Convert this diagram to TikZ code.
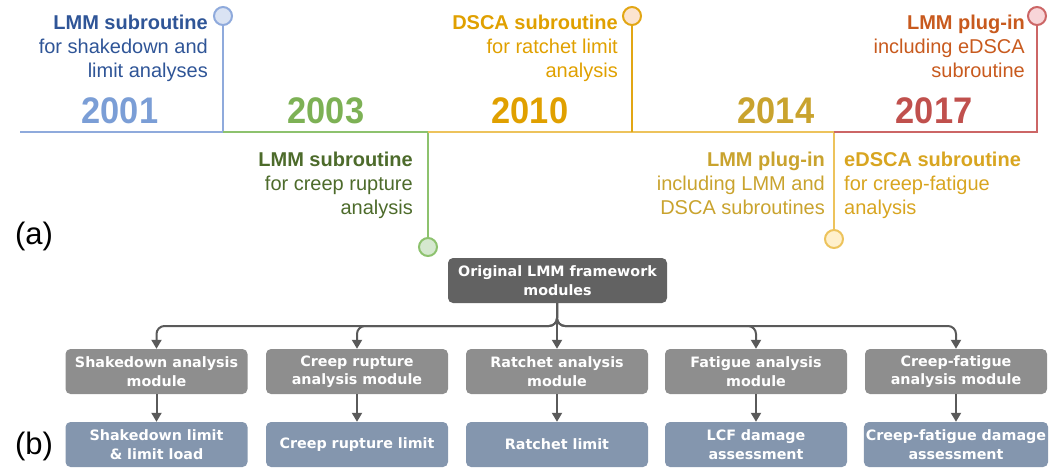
\documentclass[tikz,border=0pt]{standalone}
\usepackage{fontspec}
\setmainfont{Liberation Sans}
\newfontfamily\boxfont{DejaVu Sans}
\usetikzlibrary{arrows.meta}

% timeline colours
\definecolor{bLine}{HTML}{8FAADC}
\definecolor{bFill}{HTML}{DAE3F3}
\definecolor{bText}{HTML}{2F5597}
\definecolor{bYear}{HTML}{7B9ED6}
\definecolor{gLine}{HTML}{8DC26E}
\definecolor{gFill}{HTML}{D5E8CF}
\definecolor{gText}{HTML}{4D6B2B}
\definecolor{gYear}{HTML}{7DB155}
\definecolor{oLine}{HTML}{E2A614}
\definecolor{oFill}{HTML}{FCE4D0}
\definecolor{oText}{HTML}{E0A000}
\definecolor{yLine}{HTML}{EDC35C}
\definecolor{yFill}{HTML}{FFF0CC}
\definecolor{yText}{HTML}{C9A32E}
\definecolor{eText}{HTML}{D8A520}
\definecolor{rLine}{HTML}{CC6666}
\definecolor{rFill}{HTML}{F8D5D8}
\definecolor{rText}{HTML}{C85A1E}
\definecolor{rYear}{HTML}{C0504D}
% flow chart colours
\definecolor{topBox}{HTML}{626262}
\definecolor{modBox}{HTML}{8E8E8E}
\definecolor{resBox}{HTML}{8496AE}
\definecolor{arrowGrey}{HTML}{5A5A5A}

\tikzset{
  tline/.style={line width=2.4pt},
  dot/.style={circle, line width=2pt, minimum size=18pt, inner sep=0pt},
  lbl/.style={inner sep=0pt, font=\fontsize{20}{24}\selectfont},
  lblR/.style={lbl, anchor=north east, align=right},
  lblL/.style={lbl, anchor=north west, align=left},
  year/.style={inner sep=0pt, anchor=base, font=\fontsize{37}{37}\selectfont\bfseries},
  panel/.style={inner sep=0pt, font=\fontsize{31}{31}\selectfont},
  box/.style={rounded corners=5pt, minimum width=182pt, minimum height=45pt,
    inner sep=2pt, align=center, text=white,
    font=\boxfont\bfseries\fontsize{14.3}{18.5}\selectfont},
  topbox/.style={box, fill=topBox, minimum width=219pt},
  modbox/.style={box, fill=modBox},
  resbox/.style={box, fill=resBox},
  flow/.style={line width=2pt, draw=arrowGrey, rounded corners=8pt,
    -{Triangle[width=10pt,length=9pt]}}
}

\begin{document}
\begin{tikzpicture}[x=1pt, y=-1pt]
\useasboundingbox (0,0) rectangle (1049,467);

% ---------------- (a) timeline ----------------
\coordinate (t0) at (20,132);
\coordinate (t1) at (223,132);
\coordinate (t2) at (428,132);
\coordinate (t3) at (632,132);
\coordinate (t4) at (834,132);
\coordinate (t5) at (1037,132);

\node[dot, draw=bLine, fill=bFill] (c1) at (223,16) {};
\node[dot, draw=gLine, fill=gFill] (c2) at (428,247) {};
\node[dot, draw=oLine, fill=oFill] (c3) at (632,16) {};
\node[dot, draw=yLine, fill=yFill] (c4) at (834,239) {};
\node[dot, draw=rLine, fill=rFill] (c5) at (1037,16) {};

\draw[tline, draw=bLine] (t0) -- (t1) -- (c1);
\draw[tline, draw=gLine] (t1) -- (t2) -- (c2);
\draw[tline, draw=yLine] (t2) -- (t4) -- (c4);
\draw[tline, draw=oLine] (t3) -- (c3);
\draw[tline, draw=rLine] (t4) -- (t5) -- (c5);

\node[year, text=bYear] (y1) at (120,123) {\scalebox{0.93}[1]{2001}};
\node[year, text=gYear] (y2) at (326,123) {\scalebox{0.93}[1]{2003}};
\node[year, text=oText] (y3) at (530,123) {\scalebox{0.93}[1]{2010}};
\node[year, text=yText] (y4) at (776,123) {\scalebox{0.93}[1]{2014}};
\node[year, text=rYear] (y5) at (934,123) {\scalebox{0.93}[1]{2017}};

\node[lblR, text=bText] (l1) at (208,14.5)
  {\textbf{LMM subroutine}\\for shakedown and\\limit analyses};
\node[lblR, text=gText] (l2) at (413,151.5)
  {\textbf{LMM subroutine}\\for creep rupture\\analysis};
\node[lblR, text=oText] (l3) at (618,14.5)
  {\textbf{DSCA subroutine}\\for ratchet limit\\analysis};
\node[lblR, text=yText] (l4) at (825,151.5)
  {\textbf{LMM plug-in}\\including LMM and\\DSCA subroutines};
\node[lblL, text=eText] (l5) at (844,151.5)
  {\textbf{eDSCA subroutine}\\for creep-fatigue\\analysis};
\node[lblR, text=rText] (l6) at (1025,14.5)
  {\textbf{LMM plug-in}\\including eDSCA\\subroutine};

\node[panel] (pa) at (34,236) {(a)};

% ---------------- (b) module chart ----------------
\node[panel] (pb) at (34,446) {(b)};

\node[topbox] (orig) at (557.5,280.5) {Original LMM framework\\modules};

\node[modbox] (m1) at (156.5,371.5) {Shakedown analysis\\module};
\node[modbox] (m2) at (357,371.5) {Creep rupture\\analysis module};
\node[modbox] (m3) at (557,371.5) {Ratchet analysis\\module};
\node[modbox] (m4) at (756,371.5) {Fatigue analysis\\module};
\node[modbox] (m5) at (956,371.5) {Creep-fatigue\\analysis module};

\node[resbox] (r1) at (156.5,444.5) {Shakedown limit\\\& limit load};
\node[resbox] (r2) at (357,444.5) {Creep rupture limit};
\node[resbox] (r3) at (557,444.5) {Ratchet limit};
\node[resbox] (r4) at (756,444.5) {LCF damage\\assessment};
\node[resbox] (r5) at (956,444.5) {Creep-fatigue damage\\assessment};

\coordinate (hub) at (557,326);
\foreach \m in {m1,m2,m4,m5}
  \draw[flow] (orig.south -| hub) -- (hub) -| (\m.north);
\draw[flow] (orig.south -| hub) -- (m3.north);

\foreach \i in {1,...,5}
  \draw[flow] (m\i.south) -- (r\i.north);
\end{tikzpicture}
\end{document}
